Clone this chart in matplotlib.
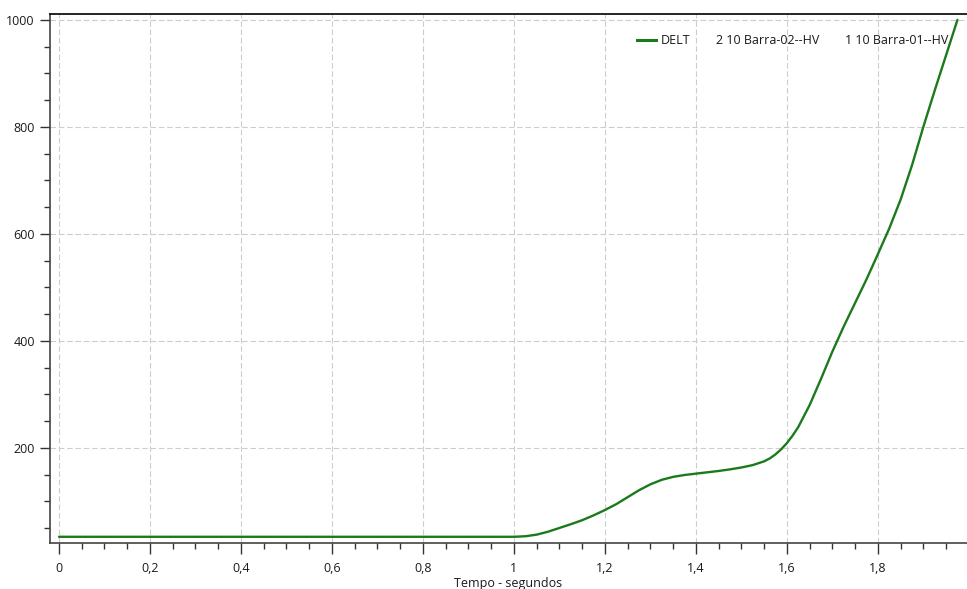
import matplotlib
matplotlib.use("Agg")
import matplotlib.pyplot as plt
from matplotlib.lines import Line2D
from matplotlib.ticker import MultipleLocator, FuncFormatter

plt.rcParams['font.family'] = ['Open Sans', 'DejaVu Sans']

# DELT time series (seconds, degrees)
tempo = [0.0, 0.2, 0.4, 0.6, 0.8, 1.0, 1.025, 1.05, 1.075, 1.1, 1.125, 1.15,
         1.175, 1.2, 1.225, 1.25, 1.275, 1.3, 1.325, 1.35, 1.375, 1.4,
         1.425, 1.45, 1.475, 1.5, 1.525, 1.55, 1.5625, 1.575, 1.5875, 1.6,
         1.6125, 1.625, 1.65, 1.675, 1.7, 1.725, 1.75, 1.775, 1.8, 1.825,
         1.85, 1.875, 1.9, 1.925, 1.95, 1.975]
delt = [34, 34, 34, 34, 34, 34, 35, 38, 43.5, 50.5, 57.5, 65,
        74, 84, 95, 108, 121, 132, 140.5, 146, 149.5, 152,
        154.5, 157, 160, 163.5, 168, 175, 180.5, 188, 197.5, 209,
        223, 239, 280, 329, 380, 427, 471, 515, 562, 610,
        664, 728, 800, 868, 934, 1000]

series_names = ["DELT", "2 10 Barra-02--HV", "1 10 Barra-01--HV"]
x_label = "Tempo - segundos"

W, H = 967, 589
fig = plt.figure(figsize=(W / 100, H / 100), dpi=100)
ax = fig.add_axes([50 / W, (H - 543) / H, (W - 50) / W, (543 - 14) / H])

ax.plot(tempo, delt, color="#1b7a1b", lw=1.7, solid_capstyle="round",
        solid_joinstyle="round")

ax.set_xlim(-0.0198, 1.996)
ax.set_ylim(22.4, 1011)

ax.xaxis.set_major_locator(MultipleLocator(0.2))
ax.xaxis.set_minor_locator(MultipleLocator(0.05))
ax.yaxis.set_major_locator(MultipleLocator(200))
ax.yaxis.set_minor_locator(MultipleLocator(50))

ax.xaxis.set_major_formatter(FuncFormatter(
    lambda v, p: ("%g" % round(v, 2)).replace(".", ",")))
ax.yaxis.set_major_formatter(FuncFormatter(lambda v, p: "%d" % v))

ax.grid(True, which="major", color="#cdcdcd", ls=(0, (5, 2.5)), lw=0.8)
ax.set_axisbelow(True)

ax.spines["right"].set_visible(False)
ax.spines["top"].set_color("#000000")
ax.spines["top"].set_linewidth(1.2)
ax.spines["left"].set_color("#444444")
ax.spines["bottom"].set_color("#444444")
ax.spines["left"].set_linewidth(1.2)
ax.spines["bottom"].set_linewidth(1.2)

ax.tick_params(which="major", length=7, width=1.0, color="#333333",
               labelsize=9, labelcolor="#1a1a1a", pad=4)
ax.tick_params(which="minor", length=4, width=1.0, color="#333333")
ax.tick_params(axis="x", which="major", length=8, pad=6)

ax.set_xlabel(x_label, fontsize=9, color="#1a1a1a", labelpad=1)

handles = [
    Line2D([], [], color="#1b7a1b", lw=2.2),
    Line2D([], [], color="none", lw=2.2),
    Line2D([], [], color="none", lw=2.2),
]
leg = ax.legend(handles, series_names, loc="center right",
                bbox_to_anchor=(955 / W, (H - 41) / H),
                bbox_transform=fig.transFigure, ncol=3, frameon=False,
                fontsize=9, handlelength=1.5, handletextpad=0.45,
                columnspacing=0.1, borderpad=0.0)
for t in leg.get_texts():
    t.set_color("#1a1a1a")

fig.savefig("out.png", dpi=100)
